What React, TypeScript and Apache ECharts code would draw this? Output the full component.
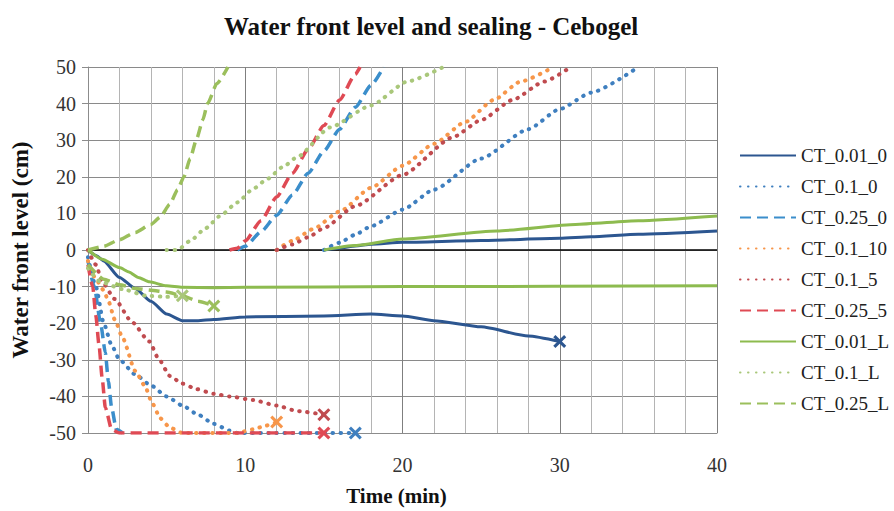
import React, { useEffect, useRef } from "react";
import * as echarts from "echarts";

// Chart texts
const chartTitle = "Water front level and sealing - Cebogel";
const timeAxisName = "Time (min)";
const levelAxisName = "Water front level (cm)";

// Axis ranges and tick spacing
const timeRange = [0, 40];
const timeStep = 10;
const levelRange = [-50, 50];
const levelStep = 10;

// Legend order
const seriesNames = [
  "CT_0.01_0",
  "CT_0.1_0",
  "CT_0.25_0",
  "CT_0.1_10",
  "CT_0.1_5",
  "CT_0.25_5",
  "CT_0.01_L",
  "CT_0.1_L",
  "CT_0.25_L",
];

// Water front descent (time, level) — negative branch
const ct001_0_front = [[0, 0], [0.5, -1.5], [1, -3], [2, -7.5], [3, -10.5], [4, -14], [5, -17.5], [6, -19.3], [7, -19.3], [8, -19], [10, -18.3], [15, -18], [18, -17.5], [20, -18], [22, -19.3], [25, -21], [28, -23.5], [30, -25]];
const ct01_0_front = [[0, -2], [0.5, -10], [1, -20], [1.5, -26], [2, -30], [3, -34], [4, -37], [5, -40], [6, -42.5], [7, -45], [8, -47.5], [9, -49.3], [9.5, -50], [17, -50]];
const ct025_0_front = [[0, -3], [0.4, -10], [0.8, -20], [1.1, -28], [1.3, -36], [1.5, -43], [1.8, -49], [2.2, -50]];
const ct01_10_front = [[0, -3], [0.5, -8], [1, -11], [1.3, -14], [1.7, -19], [2.2, -24], [3, -33], [3.6, -37], [4.1, -42], [4.6, -46], [5.2, -48.5], [6, -50], [9.5, -50], [10.5, -49], [11.3, -48], [12, -47]];
const ct01_5_front = [[0, 0], [0.5, -4], [0.9, -8.7], [1.7, -13.4], [2.8, -19.7], [3.9, -25], [4.5, -29.8], [5.2, -34.4], [6, -36.5], [6.9, -38], [8, -39.3], [9, -40], [10.5, -41], [12, -42.5], [13.3, -44], [15, -45]];
const ct025_5_front = [[0, -4], [0.3, -10], [0.5, -18], [0.7, -26], [0.9, -35], [1.1, -43], [1.5, -49], [2, -50], [15, -50]];
const ct001_L_front = [[0, 0], [0.9, -2.5], [2, -4.8], [2.6, -6], [3.2, -7.5], [3.9, -8.7], [5, -9.8], [6, -10.2], [8, -10.3], [10, -10.2], [20, -10], [40, -9.8]];
const ct01_L_front = [[0, -5], [0.8, -8.7], [2.2, -10.7], [3.7, -12.5], [5, -12.8], [6, -12.5]];
const ct025_L_front = [[0, -4], [1, -8], [2, -9.5], [3, -10.5], [4, -11], [5, -11.5], [6, -12.5], [7, -14], [8, -15.3]];

// Sealing rise (time, level) — positive branch
const ct001_0_seal = [[15, 0], [16, 0.5], [17, 1.1], [18, 1.6], [20, 2.1], [25, 2.6], [30, 3.2], [32, 3.6], [35, 4.3], [40, 5.2]];
const ct01_0_seal = [[15, 0], [16, 2], [17, 4.2], [18, 6.5], [20, 11], [22, 16.5], [25, 25], [28, 33], [30, 38.5], [32, 43], [35, 50]];
const ct025_0_seal = [[9.5, 0], [10, 1], [11, 5], [12, 9.5], [13, 15], [14, 21], [15, 27], [16, 33], [17, 39], [18, 45], [18.8, 50]];
const ct01_10_seal = [[12, 0], [13, 2.5], [14.3, 5.7], [16, 10.5], [18, 17], [20, 23], [22, 29], [24, 35], [25.8, 41], [27.5, 46], [29.6, 50]];
const ct01_5_seal = [[12, 0], [13, 1.5], [14, 3.5], [15, 6], [17, 12], [20, 20.5], [23.2, 30.8], [25, 35.5], [27, 41], [29, 46], [30.7, 50]];
const ct025_5_seal = [[9, 0], [9.5, 0.5], [10, 2.5], [11, 8], [12, 14.5], [13, 21], [14, 27.5], [15, 34], [16, 41], [17, 48], [17.3, 50]];
const ct001_L_seal = [[15, 0], [17, 1.2], [20, 3], [26, 5.2], [31, 7], [35, 8], [40, 9.3]];
const ct01_L_seal = [[5, 0], [5.7, 0], [6.5, 2.5], [7.5, 6], [8.4, 9.3], [9.5, 13], [10.5, 16.7], [11.4, 19.4], [12.4, 22.7], [13.3, 25.4], [15.4, 33.5], [18, 39.5], [20.3, 46], [22.6, 50]];
const ct025_L_seal = [[0, 0], [1, 1], [2, 2.8], [3, 4.8], [4, 7], [4.6, 9], [5.2, 12.5], [5.7, 16.5], [6.1, 20], [6.5, 25], [6.9, 30.3], [7.3, 35.5], [7.6, 40], [8.2, 45.5], [8.9, 50]];

// Test end points marked with a cross
const endMarked = ["CT_0.01_0", "CT_0.1_0", "CT_0.1_10", "CT_0.1_5", "CT_0.25_5", "CT_0.1_L", "CT_0.25_L"];

type Look = { color: string; dash: "solid" | "dotted" | "dashed"; width: number };

const looks: Record<string, Look> = {
  "CT_0.01_0": { color: "#2c5690", dash: "solid", width: 3 },
  "CT_0.1_0": { color: "#3f7fbf", dash: "dotted", width: 4 },
  "CT_0.25_0": { color: "#3b8ecb", dash: "dashed", width: 3.5 },
  "CT_0.1_10": { color: "#f7964a", dash: "dotted", width: 4 },
  "CT_0.1_5": { color: "#c04b4f", dash: "dotted", width: 4 },
  "CT_0.25_5": { color: "#df4a54", dash: "dashed", width: 3.5 },
  "CT_0.01_L": { color: "#8dbb4f", dash: "solid", width: 3 },
  "CT_0.1_L": { color: "#a9c77a", dash: "dotted", width: 4 },
  "CT_0.25_L": { color: "#9bbf5c", dash: "dashed", width: 3.5 },
};

const fronts: Record<string, number[][]> = {
  "CT_0.01_0": ct001_0_front,
  "CT_0.1_0": ct01_0_front,
  "CT_0.25_0": ct025_0_front,
  "CT_0.1_10": ct01_10_front,
  "CT_0.1_5": ct01_5_front,
  "CT_0.25_5": ct025_5_front,
  "CT_0.01_L": ct001_L_front,
  "CT_0.1_L": ct01_L_front,
  "CT_0.25_L": ct025_L_front,
};

const seals: Record<string, number[][]> = {
  "CT_0.01_0": ct001_0_seal,
  "CT_0.1_0": ct01_0_seal,
  "CT_0.25_0": ct025_0_seal,
  "CT_0.1_10": ct01_10_seal,
  "CT_0.1_5": ct01_5_seal,
  "CT_0.25_5": ct025_5_seal,
  "CT_0.01_L": ct001_L_seal,
  "CT_0.1_L": ct01_L_seal,
  "CT_0.25_L": ct025_L_seal,
};

const FONT = "Liberation Serif";
const CROSS = "path://M0,2L2,0L6,4L10,0L12,2L8,6L12,10L10,12L6,8L2,12L0,10L4,6Z";

function lineStyleOf(look: Look) {
  if (look.dash === "dotted") {
    return { color: look.color, width: look.width, type: [0.5, 7.5], cap: "round" as const };
  }
  if (look.dash === "dashed") {
    return { color: look.color, width: look.width, type: [11, 6], cap: "butt" as const };
  }
  return { color: look.color, width: look.width, type: "solid" as const };
}

function buildSeries() {
  const out: any[] = [];
  seriesNames.forEach((name) => {
    const look = looks[name];
    const marked = endMarked.includes(name);
    const front = fronts[name];
    const frontData = front.map((p, i) =>
      marked && i === front.length - 1
        ? { value: p, symbol: CROSS, symbolSize: 13, itemStyle: { color: look.color } }
        : p
    );
    out.push({
      type: "line",
      name,
      data: frontData,
      symbol: "none",
      lineStyle: lineStyleOf(look),
      itemStyle: { color: look.color },
      smooth: 0.2,
      smoothMonotone: "x",
      z: 3,
    });
    out.push({
      type: "line",
      name,
      data: seals[name],
      symbol: "none",
      lineStyle: lineStyleOf(look),
      itemStyle: { color: look.color },
      smooth: 0.2,
      smoothMonotone: "x",
      z: 3,
    });
  });
  // zero reference line
  out[0].markLine = {
    silent: true,
    symbol: "none",
    label: { show: false },
    lineStyle: { color: "#000", width: 1.5, type: "solid" },
    data: [{ yAxis: 0 }],
    z: 2,
  };
  return out;
}

export default function App() {
  const ref = useRef<HTMLDivElement>(null);

  useEffect(() => {
    if (!ref.current) return;
    const chart = echarts.init(ref.current, undefined, { renderer: "svg" });
    chart.setOption({
      animation: false,
      backgroundColor: "#ffffff",
      textStyle: { fontFamily: FONT },
      title: {
        text: chartTitle,
        left: 219,
        top: 9,
        textStyle: { fontFamily: FONT, fontSize: 25, fontWeight: "bold", color: "#111" },
      },
      legend: {
        data: seriesNames,
        orient: "vertical",
        left: 739,
        top: 146,
        padding: 0,
        itemWidth: 56,
        itemHeight: 14,
        itemGap: 12,
        itemStyle: { opacity: 0 },
        textStyle: { fontFamily: FONT, fontSize: 19, color: "#222" },
      },
      grid: { left: 88, right: 177, top: 67, bottom: 78, containLabel: false },
      xAxis: {
        type: "value",
        min: timeRange[0],
        max: timeRange[1],
        interval: timeStep,
        name: timeAxisName,
        nameLocation: "middle",
        nameGap: 52,
        nameTextStyle: {
          fontFamily: FONT,
          fontSize: 21,
          fontWeight: "bold",
          color: "#111",
          padding: [0, 12, 0, 0],
        },
        axisLine: { show: true, onZero: false, lineStyle: { color: "#8c8c8c", width: 1 } },
        axisTick: { show: false },
        axisLabel: { fontFamily: FONT, fontSize: 20, color: "#333", margin: 22 },
        splitLine: { show: true, lineStyle: { color: "#7f7f7f", width: 1 } },
        minorTick: { show: false, splitNumber: 5 },
        minorSplitLine: { show: true, lineStyle: { color: "#b4b4b4", width: 1 } },
      },
      yAxis: {
        type: "value",
        min: levelRange[0],
        max: levelRange[1],
        interval: levelStep,
        name: levelAxisName,
        nameLocation: "middle",
        nameGap: 56,
        nameTextStyle: { fontFamily: FONT, fontSize: 23, fontWeight: "bold", color: "#111" },
        axisLine: { show: true, onZero: false, lineStyle: { color: "#8c8c8c", width: 1 } },
        axisTick: { show: true, length: 6, lineStyle: { color: "#8c8c8c" } },
        axisLabel: { fontFamily: FONT, fontSize: 20, color: "#333", margin: 12 },
        splitLine: { show: true, lineStyle: { color: "#8a8a8a", width: 1 } },
      },
      series: buildSeries(),
    });
    return () => chart.dispose();
  }, []);

  return (
    <div
      ref={ref}
      style={{ position: "fixed", left: 0, top: 0, width: 894, height: 511, background: "#fff" }}
    />
  );
}
